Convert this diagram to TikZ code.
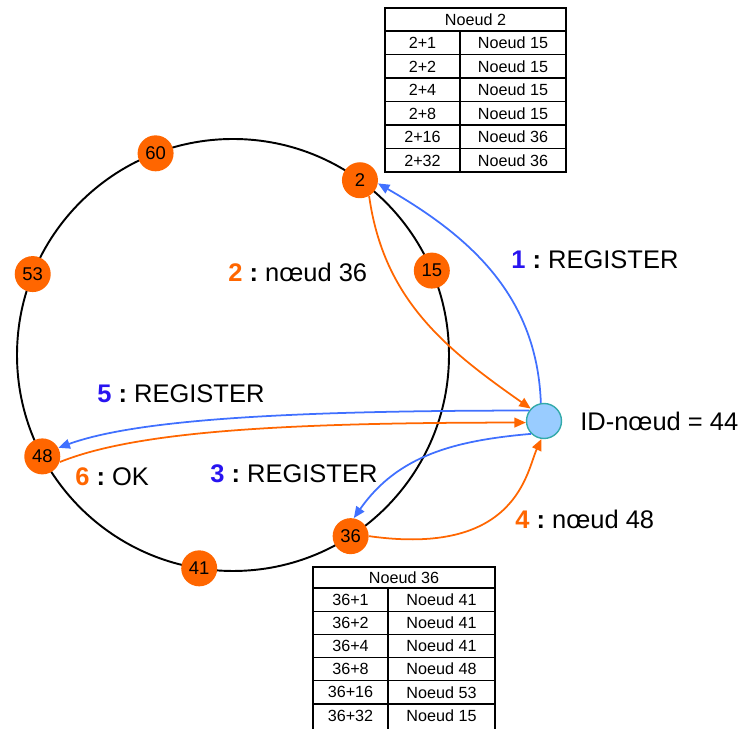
\documentclass[tikz,border=0pt]{standalone}
\usepackage{fontspec}
\setmainfont{Liberation Sans}
\usetikzlibrary{arrows.meta,calc}
\definecolor{ringorange}{RGB}{255,102,0}
\definecolor{arrblue}{RGB}{64,112,255}
\definecolor{numblue}{RGB}{40,20,240}
\definecolor{idfill}{RGB}{153,204,255}
\definecolor{idborder}{RGB}{51,170,170}
\tikzset{
  ring/.style={circle, fill=ringorange, inner sep=0pt, minimum size=0.72cm, font=\fontsize{10.5}{12}\selectfont},
  idnode/.style={circle, fill=idfill, draw=idborder, line width=0.8pt, minimum size=0.7cm, inner sep=0pt},
  msg/.style={font=\fontsize{14.5}{17}\selectfont, anchor=west, inner sep=0pt},
  cell/.style={font=\fontsize{9.2}{11}\selectfont, inner sep=0pt},
  barr/.style={-{Triangle[length=6.5pt,width=5.5pt]}, line width=1pt, draw=arrblue},
  oarr/.style={-{Triangle[length=6.5pt,width=5.5pt]}, line width=1pt, draw=ringorange},
  tabout/.style={line width=1.5pt},
  tabin/.style={line width=0.6pt}
}
\newcommand{\bnum}[1]{{\color{numblue}\bfseries #1}~\textbf{:}~}
\newcommand{\onum}[1]{{\color{ringorange}\bfseries #1}~\textbf{:}~}

\begin{document}
\begin{tikzpicture}[x=0.02cm,y=0.02cm]
\useasboundingbox (0,0) rectangle (740,729);

% ---------------- Ring ----------------
\coordinate (c) at (233,374);
\draw[line width=1.1pt] (c) circle (216);
\foreach \a/\n in {111/60,158/53,208/48,261/41,303/36,23/15,54/2}
  \node[ring] (n\n) at ($(c)+(\a:216)$) {\n};

% ---------------- New node ----------------
\node[idnode] (n44) at (544,308) {};
\node[msg] (id) at (580,308) {ID-nœud = 44};

% ---------------- Messages ----------------
\draw[barr] (n44.100) to[out=92,in=-30] (n2.-10);
\draw[oarr] (n2.-60) to[out=-82,in=145] (n44.137);
\draw[barr] (n44.-135) to[out=185,in=55] (n36.80);
\draw[oarr] (n36.0) .. controls +(-8:150) and +(-115:35) .. (n44.-98);
\draw[barr] (n44.145) .. controls +(180:250) and +(20:80) .. (n48.28);
\draw[oarr] (n48.-18) .. controls +(22:80) and +(180:250) .. (n44.185);

\node[msg] (l1) at (511,469) {\bnum{1}REGISTER};
\node[msg] (l2) at (228,457) {\onum{2}nœud 36};
\node[msg] (l3) at (210,255) {\bnum{3}REGISTER};
\node[msg] (l4) at (515,210) {\onum{4}nœud 48};
\node[msg] (l5) at (97,335) {\bnum{5}REGISTER};
\node[msg] (l6) at (75,252) {\onum{6}OK};

% ---------------- Table of node 2 ----------------
\foreach \i in {0,...,5}
  \draw[tabin] (385,{698-23.5*\i}) -- (566,{698-23.5*\i});
\draw[tabin] (460,557) -- (460,698);
\draw[tabout] (385,557) rectangle (566,721);
\node[cell] (t2h) at (475.5,709.5) {Noeud 2};
\foreach \k/\v [count=\i] in {2+1/15,2+2/15,2+4/15,2+8/15,2+16/36,2+32/36} {
  \node[cell] (t2k\i) at (422.5,{709.5-23.5*\i}) {\k};
  \node[cell] (t2v\i) at (513,{709.5-23.5*\i}) {Noeud \v};
}

% ---------------- Table of node 36 ----------------
\foreach \i in {0,...,5}
  \draw[tabin] (313,{141-23.2*\i}) -- (495,{141-23.2*\i});
\draw[tabin] (388,-5) -- (388,141);
\draw[tabout] (313,-5) rectangle (495,162);
\node[cell] (t36h) at (404,151.5) {Noeud 36};
\foreach \k/\v [count=\i] in {36+1/41,36+2/41,36+4/41,36+8/48,36+16/53,36+32/15} {
  \node[cell] (t36k\i) at (350.5,{152.6-23.2*\i}) {\k};
  \node[cell] (t36v\i) at (441.5,{152.6-23.2*\i}) {Noeud \v};
}

\end{tikzpicture}
\end{document}
